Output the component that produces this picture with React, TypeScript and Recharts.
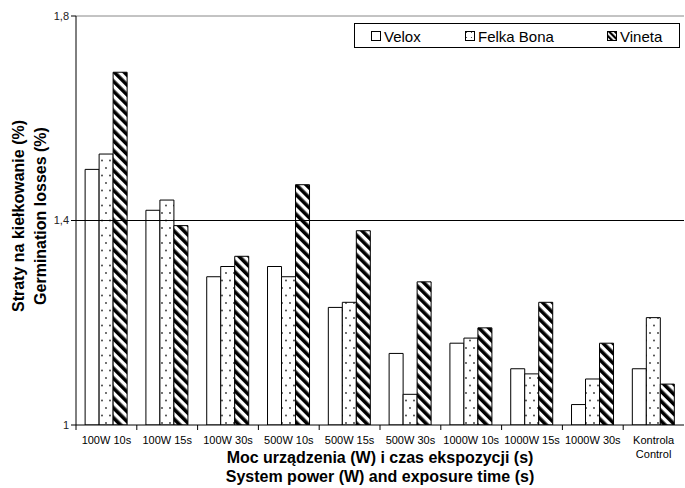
import React from "react";
import {
  Bar,
  BarChart,
  Legend,
  ReferenceLine,
  XAxis,
  YAxis,
} from "recharts";

// Categories and values (Polish decimal comma on axis).
const CATEGORIES = [
  "100W 10s",
  "100W 15s",
  "100W 30s",
  "500W 10s",
  "500W 15s",
  "500W 30s",
  "1000W 10s",
  "1000W 15s",
  "1000W 30s",
  "Kontrola\nControl",
];
const VELOX = [1.5, 1.42, 1.29, 1.31, 1.23, 1.14, 1.16, 1.11, 1.04, 1.11];
const FELKA_BONA = [1.53, 1.44, 1.31, 1.29, 1.24, 1.06, 1.17, 1.1, 1.09, 1.21];
const VINETA = [1.69, 1.39, 1.33, 1.47, 1.38, 1.28, 1.19, 1.24, 1.16, 1.08];
const Y_TICKS = [1, 1.4, 1.8];

const data = CATEGORIES.map((c, i) => ({
  name: c,
  velox: VELOX[i],
  felka: FELKA_BONA[i],
  vineta: VINETA[i],
}));

const FONT = "'Liberation Sans', Arial, sans-serif";
const BAND = 608 / CATEGORIES.length;

function Patterns() {
  return (
    <defs>
      <pattern id="dots" patternUnits="userSpaceOnUse" width="8" height="15">
        <rect width="8" height="15" fill="#fff" />
        <circle cx="2" cy="3" r="0.9" fill="#333" />
        <circle cx="6" cy="10.5" r="0.9" fill="#333" />
      </pattern>
      <pattern
        id="stripes"
        patternUnits="userSpaceOnUse"
        width="7"
        height="7"
        patternTransform="rotate(-45)"
      >
        <rect width="7" height="7" fill="#fff" />
        <rect width="3.6" height="7" fill="#000" />
      </pattern>
      <pattern id="dotsSmall" patternUnits="userSpaceOnUse" width="5" height="5">
        <rect width="5" height="5" fill="#fff" />
        <circle cx="1.5" cy="1.5" r="0.6" fill="#333" />
      </pattern>
      <pattern
        id="stripesSmall"
        patternUnits="userSpaceOnUse"
        width="4"
        height="4"
        patternTransform="rotate(-45)"
      >
        <rect width="4" height="4" fill="#fff" />
        <rect width="2.2" height="4" fill="#000" />
      </pattern>
    </defs>
  );
}

function XTick(props: any) {
  const { x, y, payload } = props;
  const lines = String(payload.value).split("\n");
  const left = x - BAND / 2;
  return (
    <g>
      <line x1={left} y1={425} x2={left} y2={430} stroke="#000" />
      <text
        x={x}
        y={444}
        textAnchor="middle"
        fontSize={11}
        fontFamily={FONT}
        fill="#000"
      >
        {lines.map((l, i) => (
          <tspan key={i} x={x} dy={i === 0 ? 0 : 14}>
            {l}
          </tspan>
        ))}
      </text>
    </g>
  );
}

function LegendBox() {
  const item = (fill: string, label: string, left: number) => (
    <div
      style={{ position: "absolute", left, top: 5, display: "flex", alignItems: "center" }}
    >
      <svg width={11} height={11} style={{ marginRight: 2 }}>
        <rect x={0.5} y={0.5} width={9} height={9} fill={fill} stroke="#000" />
      </svg>
      <span style={{ fontSize: 15, fontFamily: FONT, lineHeight: "15px" }}>{label}</span>
    </div>
  );
  return (
    <div
      style={{
        position: "relative",
        width: 326,
        height: 25,
        border: "1px solid #000",
        background: "#fff",
        boxSizing: "border-box",
      }}
    >
      {item("#fff", "Velox", 16)}
      {item("url(#dotsSmall)", "Felka Bona", 110)}
      {item("url(#stripesSmall)", "Vineta", 252)}
    </div>
  );
}

export default function App() {
  return (
    <div style={{ position: "fixed", left: 0, top: 0, width: 685, height: 488, background: "#fff" }}>
      <BarChart
        width={685}
        height={488}
        data={data}
        margin={{ top: 16, right: 1, bottom: 0, left: 0 }}
        barCategoryGap="15%"
        barGap={0}
      >
        <Patterns />
        <XAxis
          dataKey="name"
          height={63}
          interval={0}
          tickLine={false}
          axisLine={{ stroke: "#000" }}
          tick={<XTick />}
          label={{
            content: () => (
              <text
                textAnchor="middle"
                fontSize={16}
                fontWeight="bold"
                fontFamily={FONT}
                fill="#000"
              >
                <tspan x={380} y={463}>Moc urządzenia (W) i czas ekspozycji (s)</tspan>
                <tspan x={380} y={482}>System power (W) and exposure time (s)</tspan>
              </text>
            ),
          }}
        />
        <YAxis
          width={76}
          domain={[1, 1.8]}
          ticks={Y_TICKS}
          interval={0}
          allowDataOverflow
          tickSize={5}
          tickLine={{ stroke: "#000" }}
          axisLine={{ stroke: "#000" }}
          tickFormatter={(v: number) => String(v).replace(".", ",")}
          tick={{ fontSize: 11, fontFamily: FONT, fill: "#222" }}
          label={{
            content: () => (
              <text
                textAnchor="middle"
                fontSize={16}
                fontWeight="bold"
                fontFamily={FONT}
                fill="#000"
                transform="rotate(-90)"
              >
                <tspan x={-216} y={24}>Straty na kiełkowanie (%)</tspan>
                <tspan x={-216} y={46}>Germination losses (%)</tspan>
              </text>
            ),
          }}
        />
        <ReferenceLine y={1.8} stroke="#888" />
        <ReferenceLine y={1.4} stroke="#000" />
        <Legend
          verticalAlign="middle"
          layout="horizontal"
          content={() => <LegendBox />}
          wrapperStyle={{ position: "absolute", left: 354, top: 23, width: 326, height: 25 }}
        />
        <Bar dataKey="velox" name="Velox" fill="#fff" stroke="#000" isAnimationActive={false} />
        <Bar dataKey="felka" name="Felka Bona" fill="url(#dots)" stroke="#000" isAnimationActive={false} />
        <Bar dataKey="vineta" name="Vineta" fill="url(#stripes)" stroke="#000" isAnimationActive={false} />
      </BarChart>
    </div>
  );
}
